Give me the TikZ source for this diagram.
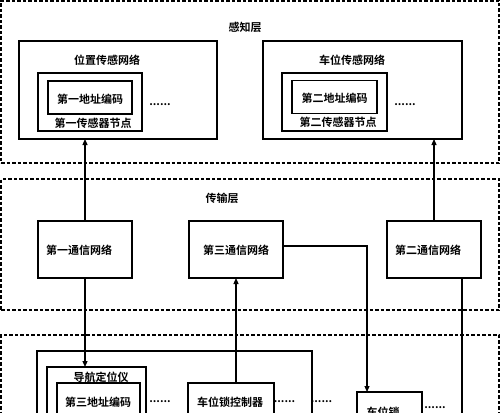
\documentclass[tikz,border=0pt]{standalone}
\usepackage{fontspec}
\setmainfont{Noto Sans CJK SC}[BoldFont={Noto Sans CJK SC Bold}]
\usetikzlibrary{arrows.meta}
\begin{document}
\begin{tikzpicture}[x=1pt,y=-1pt,
  box/.style={draw, line width=1.2pt, rectangle, inner sep=0pt, outer sep=0pt},
  layer/.style={draw, line width=1.2pt, dash pattern=on 3.5pt off 2pt, rectangle, inner sep=0pt, outer sep=0pt},
  lbl/.style={font=\fontsize{11}{13}\selectfont\bfseries, inner sep=0pt},
  dotsn/.style={font=\fontsize{11}{13}\selectfont\bfseries, inner sep=0pt},
  arr/.style={line width=1.2pt, -{Triangle[length=6pt,width=5pt]}},
  con/.style={line width=1.2pt}]
\useasboundingbox (0,0) rectangle (500,412);
\clip (0,0) rectangle (500,412);

% layers
\node[layer, minimum width=498, minimum height=162] (sense) at (250,82) {};
\node[layer, minimum width=498, minimum height=131] (trans) at (250,244.5) {};
\node[layer, minimum width=498, minimum height=110] (app) at (250,390) {};
\node[lbl] (senselbl) at (245,27) {感知层};
\node[lbl] (translbl) at (222,198) {传输层};

% sensing layer
\node[box, minimum width=198, minimum height=98] (pos1) at (118,90) {};
\node[lbl] (pos1t) at (107,60) {位置传感网络};
\node[box, minimum width=104, minimum height=58] (sn1) at (90,102) {};
\node[box, minimum width=84, minimum height=33] (ad1) at (90,97.5) {};
\node[lbl] (ad1t) at (90,99) {第一地址编码};
\node[lbl] (sn1t) at (93,123) {第一传感器节点};
\node[dotsn] (d1) at (160,105) {......};

\node[box, minimum width=199, minimum height=98] (pos2) at (362.5,90) {};
\node[lbl] (pos2t) at (352,60) {车位传感网络};
\node[box, minimum width=105, minimum height=58] (sn2) at (334.5,102) {};
\node[box, minimum width=85, minimum height=33] (ad2) at (334.5,97) {};
\node[lbl] (ad2t) at (334.5,98) {第二地址编码};
\node[lbl] (sn2t) at (338,122) {第二传感器节点};
\node[dotsn] (d2) at (405,105) {......};

% transmission layer
\node[box, minimum width=94, minimum height=57] (c1) at (85,249.5) {};
\node[lbl] (c1t) at (79,250) {第一通信网络};
\node[box, minimum width=94, minimum height=57] (c3) at (236,249.5) {};
\node[lbl] (c3t) at (236,250) {第三通信网络};
\node[box, minimum width=94, minimum height=57] (c2) at (434,249.5) {};
\node[lbl] (c2t) at (428,250) {第二通信网络};

% application layer
\node[box, minimum width=275, minimum height=100] (big) at (174.5,401) {};
\node[box, minimum width=99, minimum height=70] (nav) at (96.5,402) {};
\node[lbl] (navt) at (101,377) {导航定位仪};
\node[box, minimum width=83, minimum height=50] (ad3) at (98.5,408) {};
\node[lbl] (ad3t) at (98,402) {第三地址编码};
\node[dotsn] (d3) at (160,402) {......};
\node[box, minimum width=86, minimum height=50] (ctrl) at (231,408) {};
\node[lbl] (ctrlt) at (230,402) {车位锁控制器};
\node[dotsn] (d4) at (284.5,402) {......};
\node[dotsn] (d5) at (321.5,402) {......};
\node[box, minimum width=65, minimum height=50] (lock) at (389.5,417) {};
\node[lbl] (lockt) at (383,412) {车位锁};
\node[dotsn] (d6) at (435,408) {......};

% connectors
\coordinate (k3) at (367,246);
\coordinate (k2) at (462,278);
\coordinate (e2) at (462,430);
\draw[arr] (c1.north) -- (c1.north |- pos1.south);
\draw[arr] (c1.south) -- (c1.south |- nav.north);
\draw[arr] (c2.north) -- (c2.north |- pos2.south);
\draw[con] (k2) -- (e2);
\draw[arr] (c3.east |- k3) -- (k3) -- (k3 |- lock.north);
\draw[arr] (c3.south |- ctrl.north) -- (c3.south);
\end{tikzpicture}
\end{document}
